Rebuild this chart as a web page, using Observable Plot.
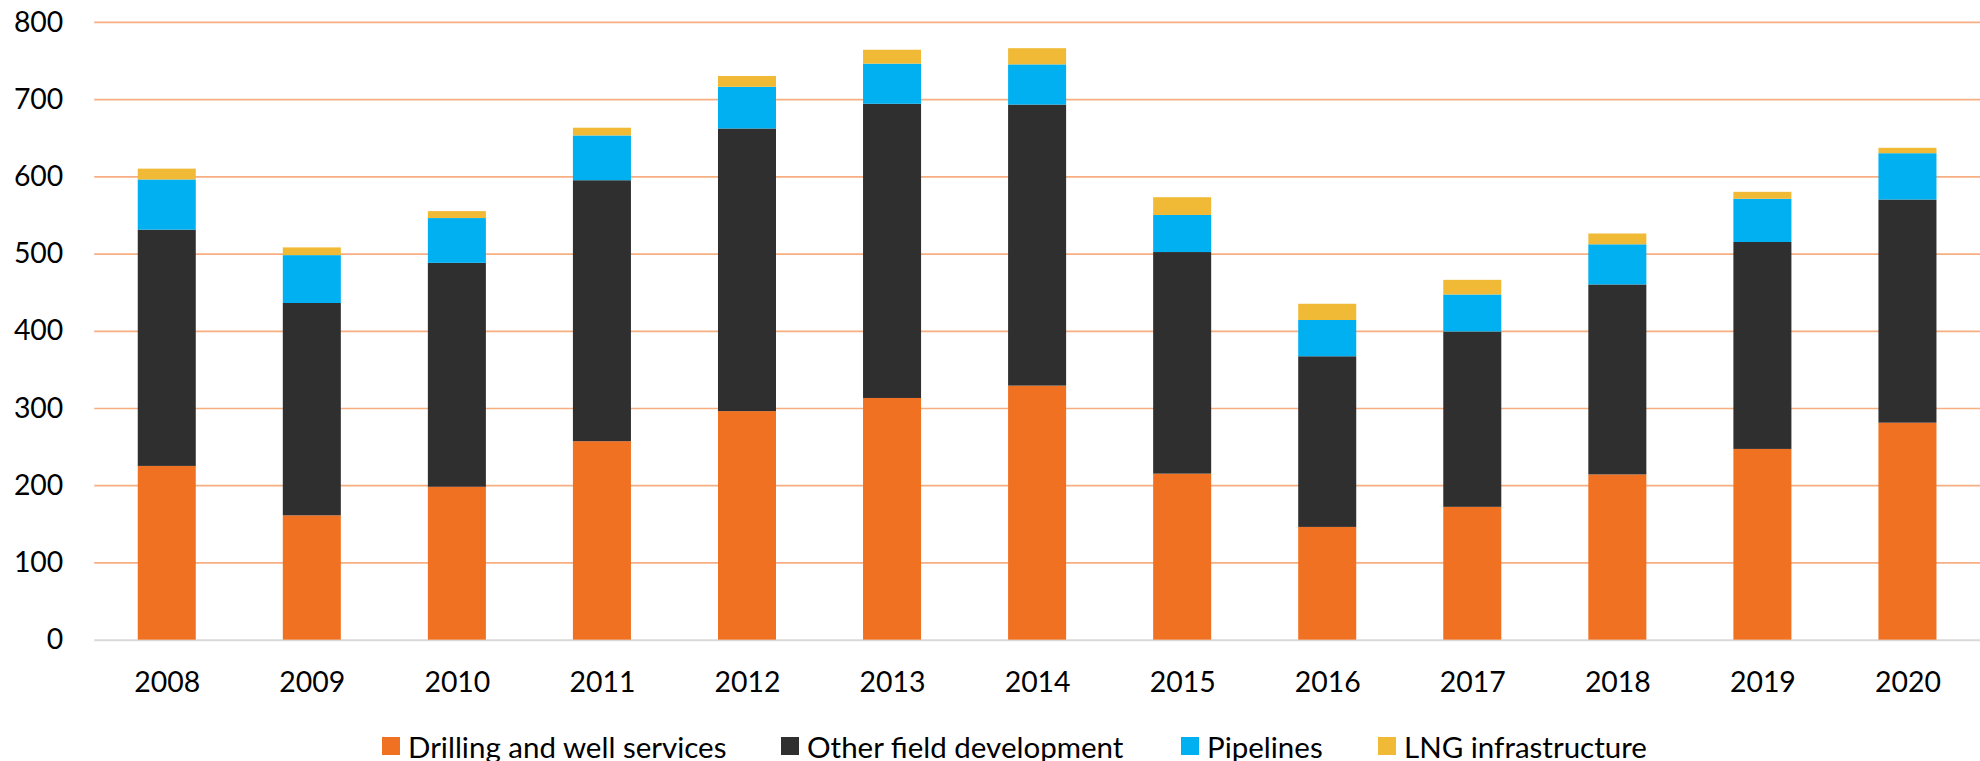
<!DOCTYPE html>
<html><head><meta charset="utf-8">
<script src="https://cdn.jsdelivr.net/npm/d3@7"></script>
<script src="https://cdn.jsdelivr.net/npm/@observablehq/plot@0.6"></script>
<style>
html,body{margin:0;padding:0;overflow:hidden;background:#fff;width:1980px;height:761px}
#chart{position:absolute;left:0;top:0}
.legend-item{position:absolute;top:737px;display:flex;align-items:center;font-family:Lato,sans-serif;font-size:29.5px;color:#000;height:18px;white-space:nowrap}
.sw{width:18px;height:18px;margin-right:8px;flex:none}
</style></head><body>
<div id="chart"></div>
<div id="legend"></div>
<script>
const years = ["2008","2009","2010","2011","2012","2013","2014","2015","2016","2017","2018","2019","2020"];
const seriesNames = ["Drilling and well services","Other field development","Pipelines","LNG infrastructure"];
const seriesColors = ["#F07122","#2F2F2F","#00B0F0","#F0BA36"];
const drilling = [225,161,198,257,296,313,329,215,146,172,214,247,281];
const otherField = [306,275,290,338,366,381,364,287,221,227,246,268,289];
const pipelines = [65,62,58,58,54,52,52,48,47,48,52,56,60];
const lng = [14,10,9,10,14,18,21,23,21,19,14,9,7];
const yTicks = [0,100,200,300,400,500,600,700,800];

const seriesValues = [drilling, otherField, pipelines, lng];
const table = [];
seriesNames.forEach((s, si) => {
  years.forEach((yr, i) => table.push({year: yr, series: s, value: seriesValues[si][i]}));
});

const plot = Plot.plot({
  width: 1986,
  height: 710,
  marginLeft: 94.5,
  marginRight: 0,
  marginTop: 22,
  marginBottom: 68.4,
  style: {fontFamily: "Lato, sans-serif", fontSize: "28.5px", color: "#000", background: "#fff"},
  x: {type: "band", domain: years, paddingInner: 0.6, paddingOuter: 0.3, round: false, axis: null},
  y: {domain: [0, 800], axis: null},
  color: {domain: seriesNames, range: seriesColors},
  marks: [
    Plot.gridY(yTicks.filter(t => t > 0), {stroke: "#F7AE80", strokeOpacity: 1, strokeWidth: 1.7}),
    Plot.ruleY([0], {stroke: "#D9D9D9", strokeWidth: 2}),
    Plot.barY(table, {x: "year", y: "value", fill: "series"}),
    Plot.axisY(yTicks, {tickSize: 0, tickPadding: 31.5, tickFormat: d => String(d), fontSize: 28.5, label: null}),
    Plot.axisX(years, {tickSize: 0, tickPadding: 31.5, fontSize: 28.5, label: null})
  ]
});
document.getElementById("chart").appendChild(plot);

const legendX = [382, 781, 1181, 1378];
const legend = document.getElementById("legend");
seriesNames.forEach((s, i) => {
  const item = document.createElement("div");
  item.className = "legend-item";
  item.style.left = legendX[i] + "px";
  const sw = document.createElement("div");
  sw.className = "sw";
  sw.style.background = seriesColors[i];
  const t = document.createElement("span");
  t.textContent = s;
  item.appendChild(sw);
  item.appendChild(t);
  legend.appendChild(item);
});
</script>
</body></html>
